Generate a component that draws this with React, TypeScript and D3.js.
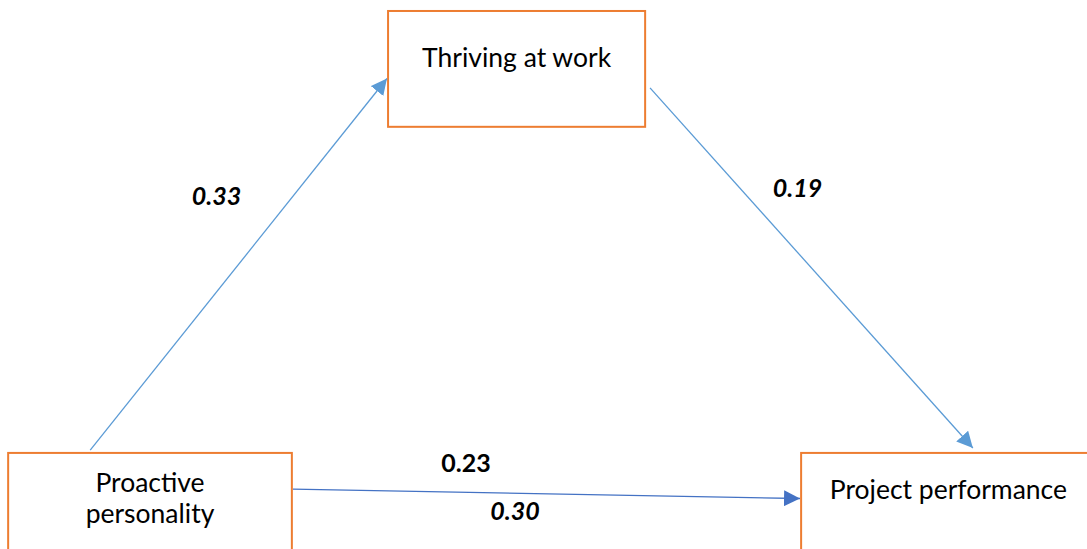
import { useEffect, useRef } from 'react';
import * as d3 from 'd3';

// Path model: constructs and coefficients
const nodeNames = ['Thriving at work', 'Proactive personality', 'Project performance'];
const nodeLines = [['Thriving at work'], ['Proactive', 'personality'], ['Project performance']];
const pathFrom = [1, 0, 1];
const pathTo = [0, 2, 2];
const pathCoefs = ['0.33', '0.19', '0.30'];
const directCoef = '0.23';

export default function App() {
    const svgRef = useRef<SVGSVGElement | null>(null);

    useEffect(() => {
        if (!svgRef.current) return;
        const svg = d3.select(svgRef.current);
        svg.selectAll('*').remove();

        const width = 1087;
        const height = 549;
        svg.attr('width', width).attr('height', height);

        // layout space 0..100 mapped to pixels
        const x = d3.scaleLinear().domain([0, 100]).range([0, width]);
        const y = d3.scaleLinear().domain([0, 100]).range([0, height]);

        const boxes = [
            { x0: 35.7, y0: 2.0, x1: 59.35, y1: 23.1 },
            { x0: 0.75, y0: 82.5, x1: 26.85, y1: 103 },
            { x0: 73.7, y0: 82.5, x1: 100.8, y1: 103 },
        ];
        const textY = [[12.2], [89.6, 95.3], [90.9]];

        const orange = '#ED7D31';
        const font = 'Lato, "Open Sans", sans-serif';

        nodeNames.forEach((name, i) => {
            const b = boxes[i];
            svg.append('rect')
                .attr('x', x(b.x0))
                .attr('y', y(b.y0))
                .attr('width', x(b.x1) - x(b.x0))
                .attr('height', y(b.y1) - y(b.y0))
                .attr('fill', 'white')
                .attr('stroke', orange)
                .attr('stroke-width', 2);
            nodeLines[i].forEach((line, j) => {
                svg.append('text')
                    .attr('x', (x(b.x0) + x(b.x1)) / 2)
                    .attr('y', y(textY[i][j]))
                    .attr('text-anchor', 'middle')
                    .attr('font-family', font)
                    .attr('font-size', 26.5)
                    .attr('fill', '#000')
                    .text(line);
            });
        });

        const defs = svg.append('defs');
        const colors = ['#5B9BD5', '#5B9BD5', '#4472C4'];
        colors.forEach((c, i) => {
            defs.append('marker')
                .attr('id', `arrow${i}`)
                .attr('viewBox', '0 0 10 10')
                .attr('refX', 10)
                .attr('refY', 5)
                .attr('markerWidth', 16)
                .attr('markerHeight', 16)
                .attr('markerUnits', 'userSpaceOnUse')
                .attr('orient', 'auto')
                .append('path')
                .attr('d', 'M0,0 L10,5 L0,10 Z')
                .attr('fill', c);
        });

        // arrow endpoints in layout units
        const ends = [
            { s: [8.3, 82.0], e: [35.6, 14.3] },
            { s: [59.8, 16.0], e: [89.5, 81.6] },
            { s: [26.95, 89.1], e: [73.6, 90.8] },
        ];
        pathFrom.forEach((_, i) => {
            const p = ends[i];
            svg.append('line')
                .attr('x1', x(p.s[0]))
                .attr('y1', y(p.s[1]))
                .attr('x2', x(p.e[0]))
                .attr('y2', y(p.e[1]))
                .attr('stroke', colors[i])
                .attr('stroke-width', 1.3)
                .attr('marker-end', `url(#arrow${i})`);
        });

        const labelPos = [[17.65, 37.4], [71.1, 35.9], [45.1, 94.8]];
        pathCoefs.forEach((c, i) => {
            svg.append('text')
                .attr('x', x(labelPos[i][0]))
                .attr('y', y(labelPos[i][1]))
                .attr('font-family', font)
                .attr('font-size', 25)
                .attr('font-weight', 'bold')
                .attr('font-style', 'italic')
                .attr('fill', '#000')
                .text(c);
        });
        svg.append('text')
            .attr('x', x(40.6))
            .attr('y', y(86.0))
            .attr('font-family', font)
            .attr('font-size', 25)
            .attr('font-weight', 'bold')
            .attr('fill', '#000')
            .text(directCoef);
    }, []);

    return (
        <svg
            ref={svgRef}
            style={{ position: 'absolute', left: 0, top: 0, background: 'white' }}
        />
    );
}
